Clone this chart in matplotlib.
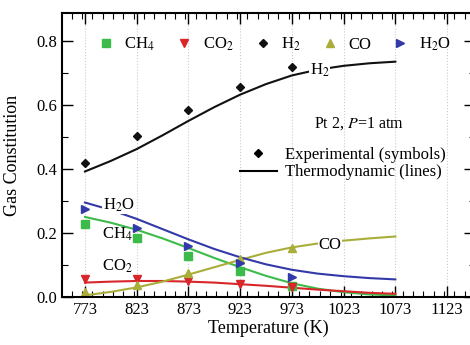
import matplotlib
matplotlib.use('Agg')
import matplotlib.pyplot as plt
import numpy as np
from matplotlib.lines import Line2D
from matplotlib.ticker import MultipleLocator

plt.rcParams['font.family'] = ['Liberation Serif', 'DejaVu Serif']
plt.rcParams['mathtext.fontset'] = 'stix'

# experimental points (symbols)
temp_exp = [773, 823, 873, 923, 973]
ch4_exp = [0.228, 0.183, 0.128, 0.080, 0.033]
co2_exp = [0.055, 0.055, 0.050, 0.040, 0.030]
h2_exp = [0.420, 0.502, 0.585, 0.657, 0.718]
co_exp = [0.015, 0.037, 0.076, 0.120, 0.153]
h2o_exp = [0.275, 0.215, 0.158, 0.105, 0.062]

# thermodynamic curves (lines)
temp_th = [773, 798, 823, 848, 873, 898, 923, 948, 973, 998, 1023, 1048, 1073]
ch4_th = [0.250, 0.232, 0.210, 0.183, 0.153, 0.122, 0.093, 0.066, 0.043, 0.026, 0.015, 0.008, 0.005]
co2_th = [0.045, 0.048, 0.050, 0.050, 0.048, 0.045, 0.040, 0.035, 0.029, 0.023, 0.018, 0.013, 0.010]
h2_th = [0.392, 0.425, 0.462, 0.505, 0.550, 0.593, 0.632, 0.665, 0.692, 0.710, 0.722, 0.730, 0.735]
co_th = [0.005, 0.016, 0.030, 0.048, 0.070, 0.093, 0.116, 0.138, 0.155, 0.167, 0.176, 0.183, 0.189]
h2o_th = [0.295, 0.272, 0.244, 0.212, 0.180, 0.150, 0.124, 0.102, 0.085, 0.073, 0.065, 0.059, 0.055]

c_ch4 = '#3dbb4a'
c_co2 = '#d8262a'
c_h2 = '#111111'
c_co = '#a9ad3a'
c_h2o = '#3239a8'

fig = plt.figure(figsize=(4.70, 3.45), dpi=100)
ax = fig.add_axes([62 / 470, 48 / 345, 413 / 470, 284 / 345])

ax.plot(temp_th, ch4_th, color=c_ch4, lw=1.5)
ax.plot(temp_th, co2_th, color=c_co2, lw=1.5)
ax.plot(temp_th, co_th, color=c_co, lw=1.5)
ax.plot(temp_th, h2o_th, color=c_h2o, lw=1.5)
ax.plot(temp_th, h2_th, color=c_h2, lw=1.5)

ms = 5.5
ax.plot(temp_exp, ch4_exp, 's', color=c_ch4, ms=ms, ls='none')
ax.plot(temp_exp, co2_exp, 'v', color=c_co2, ms=ms + 0.5, ls='none')
ax.plot(temp_exp, h2_exp, 'D', color=c_h2, ms=4.2, ls='none')
ax.plot(temp_exp, co_exp, '^', color=c_co, ms=ms + 0.5, ls='none')
ax.plot(temp_exp, h2o_exp, '>', color=c_h2o, ms=ms + 0.5, ls='none')

# curve labels
wb = dict(facecolor='white', edgecolor='none', pad=0.5)
ax.text(1000, 0.708, 'H$_2$', fontsize=12, ha='center', va='center', bbox=wb)
ax.text(806, 0.287, 'H$_2$O', fontsize=12, ha='center', va='center', bbox=wb)
ax.text(804, 0.196, 'CH$_4$', fontsize=12, ha='center', va='center')
ax.text(804, 0.096, 'CO$_2$', fontsize=12, ha='center', va='center')
ax.text(1010, 0.161, 'CO', fontsize=12, ha='center', va='center', bbox=wb)
ax.text(1038, 0.540, 'Pt 2, $P$=1 atm', fontsize=11.5, ha='center', va='center')

ax.set_xlim(750.8, 1150)
ax.set_ylim(0, 0.887)
ax.set_xticks([773, 823, 873, 923, 973, 1023, 1073, 1123])
ax.xaxis.set_minor_locator(MultipleLocator(10))
ax.set_yticks([0.0, 0.2, 0.4, 0.6, 0.8])
ax.yaxis.set_minor_locator(MultipleLocator(0.1))
ax.set_yticklabels(['0.0', '0.2', '0.4', '0.6', '0.8'])
ax.tick_params(which='both', direction='in', top=True, right=True, labelsize=12)
ax.tick_params(which='major', length=8, width=1)
ax.tick_params(which='minor', length=4, width=0.8)
ax.grid(axis='x', which='major', color='#cccccc', ls=':', lw=0.8)
for sp in ax.spines.values():
    sp.set_linewidth(1.5)

ax.set_xlabel('Temperature (K)', fontsize=13, labelpad=1)
ax.set_ylabel('Gas Constitution', fontsize=13, labelpad=11)

handles = [
    Line2D([], [], marker='s', color=c_ch4, ls='none', ms=ms),
    Line2D([], [], marker='v', color=c_co2, ls='none', ms=ms + 0.5),
    Line2D([], [], marker='D', color=c_h2, ls='none', ms=4.2),
    Line2D([], [], marker='^', color=c_co, ls='none', ms=ms + 0.5),
    Line2D([], [], marker='>', color=c_h2o, ls='none', ms=ms + 0.5),
]
labels = ['CH$_4$', 'CO$_2$', 'H$_2$', 'CO', 'H$_2$O']
leg1 = ax.legend(handles, labels, ncol=5, loc='center left', bbox_to_anchor=(0.07, 0.89),
                 frameon=False, fontsize=12, handlelength=1.0, handletextpad=0.6,
                 columnspacing=1.25, borderaxespad=0)
ax.add_artist(leg1)

handles2 = [Line2D([], [], marker='D', color='black', ls='none', ms=4.2),
            Line2D([], [], color='black', lw=1.5)]
ax.legend(handles2, ['Experimental (symbols)', 'Thermodynamic (lines)'],
          loc='center left', bbox_to_anchor=(0.415, 0.47), frameon=False, fontsize=12,
          handlelength=2.2, handletextpad=0.5, labelspacing=0.1, borderaxespad=0)

fig.savefig('out.png', dpi=100)
